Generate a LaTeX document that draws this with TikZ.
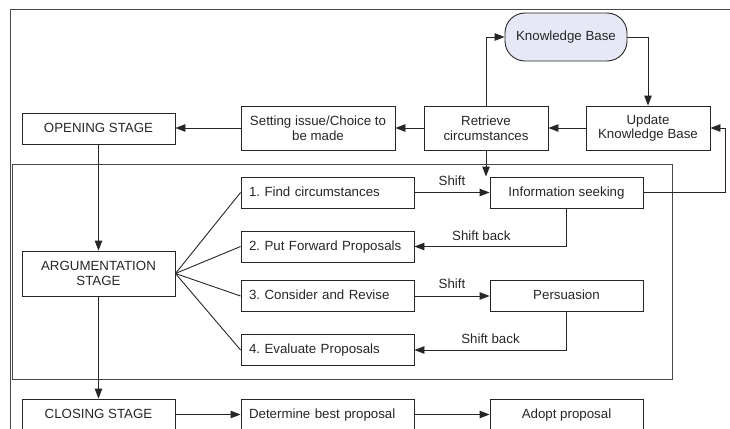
\documentclass[tikz,border=0pt]{standalone}
\usepackage{fontspec}
\setmainfont{Liberation Sans}
\usetikzlibrary{arrows.meta}
\definecolor{kbfill}{HTML}{E6E8F5}
\definecolor{ink}{HTML}{262626}
\frenchspacing
\begin{document}
\begin{tikzpicture}[x=1pt,y=-1pt,
  every node/.style={font=\fontsize{13.3}{14.5}\selectfont\frenchspacing, inner sep=0pt, text=ink},
  oneline/.style={text height=9.6pt, text depth=2.6pt},
  box/.style={draw=ink, line width=0.9pt, minimum height=31pt, align=center},
  stepbox/.style={box, oneline, inner xsep=8pt, text width=157pt, align=left},
  modebox/.style={box, oneline, minimum width=153pt},
  stagebox/.style={box, minimum width=153pt},
  flow/.style={draw=ink, line width=0.9pt, -{Triangle[length=10pt,width=7.5pt]}},
  plain/.style={draw=ink, line width=0.9pt},
  frame/.style={draw=ink!85, line width=0.9pt}]

\useasboundingbox (0,0) rectangle (730,428);
\clip (0,0) rectangle (730,428);

% frames
\draw[frame] (10,440) -- (10,9.5) -- (740,9.5);
\draw[frame] (12.7,164) rectangle (672,379);

% knowledge base loop
\node[box, oneline, minimum width=122pt, minimum height=48pt, rounded corners=20pt, fill=kbfill] (kb) at (566,37) {Knowledge Base};
\node[box, minimum width=124pt, minimum height=44pt] (upd) at (648,128) {Update\\Knowledge Base};
\node[box, minimum width=124pt, minimum height=44pt] (ret) at (486,128) {Retrieve\\circumstances};
\node[box, minimum width=154pt, minimum height=44pt] (set) at (318,128) {Setting issue/Choice to\\be made};

% stages
\node[stagebox, oneline] (open) at (98.5,128.5) {OPENING STAGE};
\node[stagebox, minimum height=45pt] (arg) at (98.5,273.5) {ARGUMENTATION\\STAGE};
\node[stagebox, oneline] (close) at (98.5,414.5) {CLOSING STAGE};

% argumentation steps
\node[stepbox] (s1) at (327.5,192.5) {1. Find circumstances};
\node[stepbox] (s2) at (327.5,246.5) {2. Put Forward Proposals};
\node[stepbox] (s3) at (327.5,296) {3. Consider and Revise};
\node[stepbox] (s4) at (327.5,350) {4. Evaluate Proposals};
\node[stepbox] (det) at (327.5,414.5) {Determine best proposal};

% dialogue modes
\node[modebox] (info) at (566.5,192.5) {Information seeking};
\node[modebox] (pers) at (566.5,296) {Persuasion};
\node[modebox] (adopt) at (566.5,414.5) {Adopt proposal};

\coordinate (rt) at (725,192.5);

% top row
\draw[flow] (upd) -- (ret);
\draw[flow] (ret) -- (set);
\draw[flow] (set.west) -- (set.west -| open.east);
\draw[flow] (ret.north) |- (kb.west);
\draw[flow] (kb.east) -| (upd.north);
\draw[flow] (ret.south) -- (ret.south |- info.north);
\draw[flow] (info.east) -- (rt) |- (upd.east);

% stage sequence
\draw[flow] (open) -- (arg);
\draw[flow] (arg) -- (close);
\draw[flow] (close) -- (det);
\draw[flow] (det) -- (adopt);

% fan out to steps
\draw[plain] (arg.east) -- (s1.west);
\draw[plain] (arg.east) -- (s2.west);
\draw[plain] (arg.east) -- (s3.west);
\draw[plain] (arg.east) -- (s4.west);

% shifts between dialogue types
\draw[flow] (s1) -- node[oneline, above=4pt] (sh1) {Shift} (info);
\draw[flow] (s3) -- node[oneline, above=4pt] (sh2) {Shift} (pers);
\draw[flow] (info.south) |- node[oneline, pos=0.78, above=3pt] (sb1) {Shift back} (s2.east);
\draw[flow] (pers.south) |- node[oneline, pos=0.75, above=3pt] (sb2) {Shift back} (s4.east);
\end{tikzpicture}
\end{document}
